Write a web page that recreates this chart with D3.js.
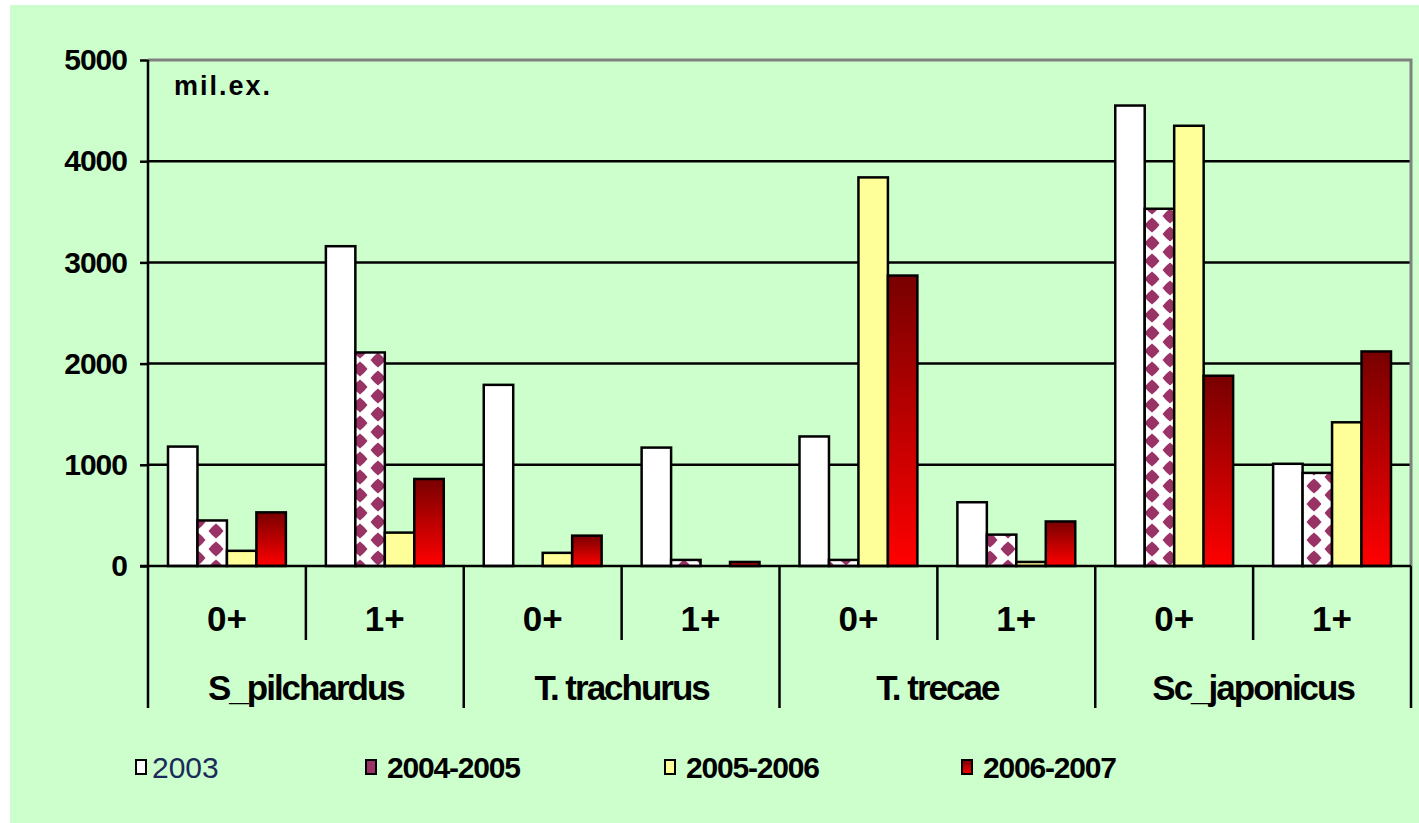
<!DOCTYPE html>
<html>
<head>
<meta charset="utf-8">
<script src="https://cdn.jsdelivr.net/npm/d3@7"></script>
<style>
    body { margin: 0; background: #fff; }
    text { font-family: "Liberation Sans", Arial, sans-serif; }
</style>
</head>
<body>
<div id="chart"></div>
<script>

let species = ['S_pilchardus', 'T. trachurus', 'T. trecae', 'Sc_japonicus']
let ages = ['0+', '1+']
let seasons = ['2003', '2004-2005', '2005-2006', '2006-2007']

// one value per (species, age) group, in the order of species x ages
let values2003 = [1180, 3160, 1790, 1170, 1280, 630, 4550, 1010]
let values0405 = [450, 2110, 0, 60, 60, 310, 3530, 920]
let values0506 = [150, 330, 130, 0, 3840, 40, 4350, 1420]
let values0607 = [530, 860, 300, 40, 2870, 440, 1880, 2120]

let yTicks = [0, 1000, 2000, 3000, 4000, 5000]

function createBars(){

    let width = 1419,
        height = 823

    let svg = d3.select('#chart').append('svg')
        .attr('width', width)
        .attr('height', height)

    let left = 148, right = 1411, top = 60, bottom = 566

    let groups = []
    species.forEach(function(s){
        ages.forEach(function(a){
            groups.push(s + '|' + a)
        })
    })

    let series = [values2003, values0405, values0506, values0607]

    let data = []
    groups.forEach(function(g, i){
        seasons.forEach(function(s, j){
            data.push({'group': g, 'season': s, 'value': series[j][i]})
        })
    })

    let defs = svg.append('defs')

    let grad = defs.append('linearGradient')
        .attr('id', 'redgrad')
        .attr('x1', 0).attr('y1', 0)
        .attr('x2', 0).attr('y2', 1)
    grad.append('stop').attr('offset', '0%').attr('stop-color', '#780000')
    grad.append('stop').attr('offset', '100%').attr('stop-color', '#ff0000')

    let pat = defs.append('pattern')
        .attr('id', 'diamonds')
        .attr('patternUnits', 'userSpaceOnUse')
        .attr('width', 36)
        .attr('height', 18)
    pat.append('rect')
        .attr('width', 36).attr('height', 18)
        .attr('fill', '#fff')
    let diamondCenters = [[0, 9], [36, 9], [18, 0], [18, 18]]
    diamondCenters.forEach(function(c){
        // star-ish diamond like the excel pattern
        pat.append('path')
            .attr('fill', '#993366')
            .attr('d', 'M' + (c[0] - 7.5) + ',' + c[1] +
                ' L' + (c[0] - 4) + ',' + (c[1] - 4) +
                ' L' + c[0] + ',' + (c[1] - 7.5) +
                ' L' + (c[0] + 4) + ',' + (c[1] - 4) +
                ' L' + (c[0] + 7.5) + ',' + c[1] +
                ' L' + (c[0] + 4) + ',' + (c[1] + 4) +
                ' L' + c[0] + ',' + (c[1] + 7.5) +
                ' L' + (c[0] - 4) + ',' + (c[1] + 4) + 'Z')
    })

    let fills = {
        '2003': '#ffffff',
        '2004-2005': 'url(#diamonds)',
        '2005-2006': '#ffff99',
        '2006-2007': 'url(#redgrad)'
    }

    // background
    svg.append('rect')
        .attr('x', 10)
        .attr('y', 5)
        .attr('width', width - 10)
        .attr('height', height - 5)
        .attr('fill', '#ccffcc')

    let x0 = d3.scaleBand()
        .domain(groups)
        .range([left, right])

    let x1 = d3.scaleBand()
        .domain(seasons)
        .range([20, x0.bandwidth() - 20])

    let xSpecies = d3.scaleBand()
        .domain(species)
        .range([left, right])

    let yScale = d3.scaleLinear()
        .domain([0, 5000])
        .range([bottom, top])

    // gridlines
    svg.append('g')
        .selectAll('line')
        .data(yTicks.filter(function(d){ return d > 0 && d < 5000 }))
        .enter().append('line')
        .attr('x1', left)
        .attr('x2', right)
        .attr('y1', function(d){ return yScale(d) })
        .attr('y2', function(d){ return yScale(d) })
        .attr('stroke', '#000')
        .attr('stroke-width', 2.5)

    // plot border top/right
    svg.append('path')
        .attr('d', 'M' + left + ',' + top + 'H' + right + 'V' + bottom)
        .attr('fill', 'none')
        .attr('stroke', '#808080')
        .attr('stroke-width', 3)

    // bars
    svg.append('g')
        .selectAll('rect')
        .data(data.filter(function(d){ return d.value > 0 }))
        .enter().append('rect')
        .attr('x', function(d){ return x0(d.group) + x1(d.season) })
        .attr('y', function(d){ return yScale(d.value) })
        .attr('width', x1.bandwidth())
        .attr('height', function(d){ return yScale(0) - yScale(d.value) })
        .attr('fill', function(d){ return fills[d.season] })
        .attr('stroke', '#000')
        .attr('stroke-width', 2.5)

    // y axis
    let yAxis = svg.append('g')
        .attr('transform', 'translate(' + left + ',0)')
        .call(d3.axisLeft(yScale).tickValues(yTicks).tickSize(8).tickPadding(13).tickFormat(d3.format('d')))

    yAxis.select('.domain').remove()
    yAxis.selectAll('line').attr('stroke', '#000').attr('stroke-width', 2.5)
    yAxis.selectAll('text')
        .attr('font-size', 30)
        .attr('font-weight', 'bold')
        .attr('letter-spacing', -1)
        .attr('fill', '#000')

    svg.append('line')
        .attr('x1', left).attr('x2', left)
        .attr('y1', top).attr('y2', 708)
        .attr('stroke', '#000')
        .attr('stroke-width', 2.5)

    svg.append('line')
        .attr('x1', left - 8).attr('x2', right)
        .attr('y1', bottom).attr('y2', bottom)
        .attr('stroke', '#000')
        .attr('stroke-width', 2.5)

    // category dividers
    svg.append('g')
        .selectAll('line')
        .data(groups.filter(function(d){ return d.split('|')[1] == '1+' }))
        .enter().append('line')
        .attr('x1', function(d){ return x0(d) })
        .attr('x2', function(d){ return x0(d) })
        .attr('y1', bottom)
        .attr('y2', 640)
        .attr('stroke', '#000')
        .attr('stroke-width', 2.5)

    svg.append('g')
        .selectAll('line')
        .data(species)
        .enter().append('line')
        .attr('x1', function(d){ return xSpecies(d) + xSpecies.bandwidth() })
        .attr('x2', function(d){ return xSpecies(d) + xSpecies.bandwidth() })
        .attr('y1', bottom)
        .attr('y2', 708)
        .attr('stroke', '#000')
        .attr('stroke-width', 2.5)

    svg.append('g')
        .selectAll('text')
        .data(groups)
        .enter().append('text')
        .attr('x', function(d){ return x0(d) + x0.bandwidth() / 2 })
        .attr('y', 631)
        .attr('text-anchor', 'middle')
        .attr('font-size', 35)
        .attr('font-weight', 'bold')
        .text(function(d){ return d.split('|')[1] })

    svg.append('g')
        .selectAll('text')
        .data(species)
        .enter().append('text')
        .attr('x', function(d){ return xSpecies(d) + xSpecies.bandwidth() / 2 })
        .attr('y', 700)
        .attr('text-anchor', 'middle')
        .attr('font-size', 35)
        .attr('font-weight', 'bold')
        .attr('letter-spacing', -2)
        .text(function(d){ return d })

    svg.append('text')
        .attr('x', 174)
        .attr('y', 95)
        .attr('font-size', 27)
        .attr('font-weight', 'bold')
        .attr('letter-spacing', 2)
        .text('mil.ex.')

    // legend
    let legendX = [136, 366, 665, 962]

    let legend = svg.append('g')
        .selectAll('g')
        .data(seasons)
        .enter().append('g')
        .attr('transform', function(d, i){ return 'translate(' + legendX[i] + ',760)' })

    legend.append('rect')
        .attr('width', 10)
        .attr('height', 14)
        .attr('fill', function(d){ return d == '2004-2005' ? '#993366' : fills[d] })
        .attr('stroke', '#000')
        .attr('stroke-width', 2)

    legend.append('text')
        .attr('x', function(d, i){ return i == 0 ? 16 : 21 })
        .attr('y', 18)
        .attr('font-size', 30)
        .attr('font-weight', function(d, i){ return i == 0 ? 'normal' : 'bold' })
        .attr('letter-spacing', function(d, i){ return i == 0 ? 0 : -1.2 })
        .attr('fill', function(d, i){ return i == 0 ? '#1a2a5a' : '#000' })
        .text(function(d){ return d })
}

createBars()

</script>
</body>
</html>
